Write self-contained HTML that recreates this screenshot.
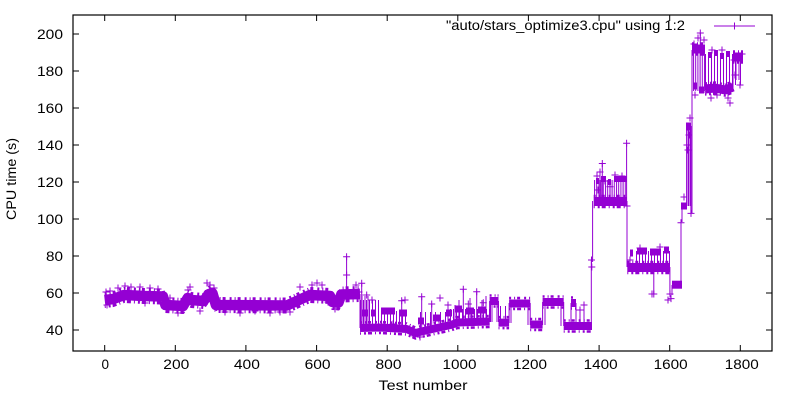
<!DOCTYPE html>
<html>
<head>
<meta charset="utf-8">
<style>
html,body{margin:0;padding:0;background:#fff;}
svg{display:block;}
text{font-family:"Liberation Sans",Arial,sans-serif;fill:#000;}
</style>
</head>
<body>
<svg width="800" height="400" viewBox="0 0 800 400" xmlns="http://www.w3.org/2000/svg" xmlns:xlink="http://www.w3.org/1999/xlink">
<defs>
<path id="p" d="M-3.5 0h7M0 -3.5v7" fill="none" stroke="#9400d3" stroke-width="1"/>
<pattern id="h2" width="2.2" height="10" patternUnits="userSpaceOnUse"><rect width="1" height="10" fill="#9400d3"/></pattern>
<pattern id="h3" width="3" height="10" patternUnits="userSpaceOnUse"><rect width="1" height="10" fill="#9400d3"/></pattern>
<pattern id="h5" width="5" height="10" patternUnits="userSpaceOnUse"><rect width="1" height="10" fill="#9400d3"/></pattern>
<path id="mb" d="M104.7 300 L113.5 299 L124.1 295 L143.5 296 L163 296.5 L165.4 305 L183.1 306 L187.7 298 L191.2 300 L203.6 301 L208.9 294 L212.4 293 L215.9 305 L286.9 305.5 L309.9 295 L320.1 295.5 L330 296 L332.5 302 L338.5 302.5 L341.3 294.5 L360 294"/>
<path id="lb" d="M360 328 L380 327.5 L406.6 329 L415.4 333 L427.8 330 L450.7 325 L457.8 322.5 L489.6 321.5"/>
<path id="sb" d="M489.6 301H498.5M498.5 322.6H509.1M509.1 303.5H530.2M530.2 324.5H542.6M542.6 302H563.7M563.7 326H592M571 303H576"/>
<path id="hb" d="M593.7 201.5H627M627.3 267.5H670M692 49H705M705 89L715 88L725 90L733 87M733 57H743"/>
</defs>
<rect width="800" height="400" fill="#fff"/>

<g fill="none" stroke="#9400d3" stroke-linejoin="round">
<!-- main band 0-723 -->
<use href="#mb" xlink:href="#mb" stroke-width="10.5"/>
<use href="#mb" xlink:href="#mb" transform="translate(0,-6.5)" stroke-width="3" stroke-dasharray="2 3 1 2 3 4"/>
<use href="#mb" xlink:href="#mb" transform="translate(0,6.5)" stroke-width="3" stroke-dasharray="1 3 2 2 4 3"/>
<!-- low region bands -->
<use href="#lb" xlink:href="#lb" stroke-width="8"/>
<use href="#lb" xlink:href="#lb" transform="translate(0,-5.5)" stroke-width="2.5" stroke-dasharray="2 3 1 2 3 4"/>
<use href="#lb" xlink:href="#lb" transform="translate(0,5.5)" stroke-width="2.5" stroke-dasharray="1 3 2 2 4 3"/>
<path stroke-width="7" d="M362 313H368M371 313H376M381 311H395M399 313H407M418 321H424M433 318H440M446 313H452M455 309H462M466 311H474M478 310H486"/>
<use href="#sb" xlink:href="#sb" stroke-width="8"/>
<use href="#sb" xlink:href="#sb" transform="translate(0,-5.5)" stroke-width="2.5" stroke-dasharray="2 3 1 2 3 4"/>
<use href="#sb" xlink:href="#sb" transform="translate(0,5.5)" stroke-width="2.5" stroke-dasharray="1 3 2 2 4 3"/>
<!-- high region bands -->
<use href="#hb" xlink:href="#hb" stroke-width="9"/>
<use href="#hb" xlink:href="#hb" transform="translate(0,-5.5)" stroke-width="2.5" stroke-dasharray="2 3 1 2 3 4"/>
<use href="#hb" xlink:href="#hb" transform="translate(0,5.5)" stroke-width="2.5" stroke-dasharray="1 3 2 2 4 3"/>
<path stroke-width="6" d="M596 181H599M601 179H606M608 182H611M614 179H627"/>
<path stroke-width="7" d="M630 253H633M637 251H647M650 252H661M664 250H669"/>
<path stroke-width="8" d="M672 284.7H682"/>
<path stroke-width="7" d="M681 206H687"/>
<path stroke-width="8" d="M686 126.5H691"/>
<path stroke-width="7" d="M693 86H697M699 90H704"/>
<path stroke-width="6" d="M708 55H712M714 53H718M720 56H724M726 54H730"/>
</g>

<!-- hatch (dense vertical connecting lines) -->
<g stroke="none">
<rect x="360" y="300" width="20" height="26" fill="url(#h3)"/>
<rect x="380" y="311" width="27" height="17" fill="url(#h3)"/>
<rect x="420" y="312" width="30" height="17" fill="url(#h5)"/>
<rect x="450" y="309" width="40" height="13" fill="url(#h3)"/>
<rect x="498" y="306" width="11" height="16" fill="url(#h5)"/>
<rect x="594" y="180" width="33" height="21" fill="url(#h2)"/>
<rect x="636" y="251" width="34" height="16" fill="url(#h3)"/>
<rect x="692" y="49" width="13" height="42" fill="url(#h2)"/>
<rect x="705" y="54" width="28" height="36" fill="url(#h3)"/>
<rect x="733" y="57" width="10" height="28" fill="url(#h5)"/>
</g>

<!-- thin vertical lines -->
<path fill="none" stroke="#9400d3" stroke-width="1" d="
M346.6 294V256.7
M360 294V328M362 294V328M365 296V328M368 296V328
M361.7 283V328M401.7 300V329M421.7 297V331M431.7 304V330M448 305V325M463.3 289V322M476.7 292V322
M455 305V325M459 300V323M470 298V322M482 300V322M486 296V322
M489.6 301V322M490.5 301V322M492 301V322M497 301V322M498.5 301V322
M509.1 303V323M511 303V323M528 303V325M530.2 303V325
M542.6 302V325M545 302V325M561 302V326M563.7 302V326
M571 303V326M576 303V326M580 310V326M584 305V326
M591.3 326V260M592.6 262V201
M600 201V172M602.3 201V163.3M610 201V186.7M626.6 201V143.2M627 201V267
M653.8 267V294M669.9 267V295M672 295V285
M681 285V222.7M682 222V206M686.6 206V126M687 126V206M688.5 126V206M690 126V206
M690.9 126V213.4M692 213V50M700.3 49V33
M733 88V57M736 57V80M739 57V80"/>

<!-- scattered markers -->
<g>
<use href="#p" xlink:href="#p" x="106" y="292"/><use href="#p" xlink:href="#p" x="110" y="291"/>
<use href="#p" xlink:href="#p" x="118" y="288"/><use href="#p" xlink:href="#p" x="125" y="286"/>
<use href="#p" xlink:href="#p" x="131" y="287"/><use href="#p" xlink:href="#p" x="140" y="287"/>
<use href="#p" xlink:href="#p" x="150" y="288"/><use href="#p" xlink:href="#p" x="158" y="289"/>
<use href="#p" xlink:href="#p" x="170" y="298"/><use href="#p" xlink:href="#p" x="178" y="313"/>
<use href="#p" xlink:href="#p" x="188" y="290"/><use href="#p" xlink:href="#p" x="190" y="287"/>
<use href="#p" xlink:href="#p" x="200" y="311"/><use href="#p" xlink:href="#p" x="207" y="283"/>
<use href="#p" xlink:href="#p" x="210" y="285"/><use href="#p" xlink:href="#p" x="214" y="288"/>
<use href="#p" xlink:href="#p" x="225" y="312"/><use href="#p" xlink:href="#p" x="240" y="313"/>
<use href="#p" xlink:href="#p" x="255" y="311"/><use href="#p" xlink:href="#p" x="270" y="313"/>
<use href="#p" xlink:href="#p" x="280" y="312"/><use href="#p" xlink:href="#p" x="300" y="287"/>
<use href="#p" xlink:href="#p" x="312" y="285"/><use href="#p" xlink:href="#p" x="317" y="283"/>
<use href="#p" xlink:href="#p" x="322" y="285"/><use href="#p" xlink:href="#p" x="328" y="302"/>
<use href="#p" xlink:href="#p" x="335" y="309"/><use href="#p" xlink:href="#p" x="346.6" y="256.7"/>
<use href="#p" xlink:href="#p" x="346.6" y="275"/><use href="#p" xlink:href="#p" x="356" y="285"/>
<use href="#p" xlink:href="#p" x="359" y="292"/><use href="#p" xlink:href="#p" x="107" y="305"/>
<use href="#p" xlink:href="#p" x="145" y="303"/><use href="#p" xlink:href="#p" x="290" y="312"/>
<use href="#p" xlink:href="#p" x="361.7" y="283.3"/><use href="#p" xlink:href="#p" x="366.7" y="295"/>
<use href="#p" xlink:href="#p" x="372" y="300"/><use href="#p" xlink:href="#p" x="401.7" y="300.7"/>
<use href="#p" xlink:href="#p" x="405" y="300"/><use href="#p" xlink:href="#p" x="421.7" y="296.7"/>
<use href="#p" xlink:href="#p" x="431.7" y="304"/><use href="#p" xlink:href="#p" x="448" y="305"/>
<use href="#p" xlink:href="#p" x="463.3" y="289.3"/><use href="#p" xlink:href="#p" x="468.3" y="304"/>
<use href="#p" xlink:href="#p" x="476.7" y="291.7"/><use href="#p" xlink:href="#p" x="483.3" y="302.7"/>
<use href="#p" xlink:href="#p" x="415" y="336"/><use href="#p" xlink:href="#p" x="420" y="337"/>
<use href="#p" xlink:href="#p" x="580" y="310"/><use href="#p" xlink:href="#p" x="584" y="305"/>
<use href="#p" xlink:href="#p" x="393" y="324"/><use href="#p" xlink:href="#p" x="440" y="298"/>
<use href="#p" xlink:href="#p" x="591.5" y="260"/><use href="#p" xlink:href="#p" x="591.8" y="267"/>
<use href="#p" xlink:href="#p" x="602.3" y="163.5"/><use href="#p" xlink:href="#p" x="600" y="172"/>
<use href="#p" xlink:href="#p" x="597" y="176"/><use href="#p" xlink:href="#p" x="610" y="186.7"/>
<use href="#p" xlink:href="#p" x="626.6" y="143.2"/><use href="#p" xlink:href="#p" x="605" y="181"/>
<use href="#p" xlink:href="#p" x="598" y="190"/><use href="#p" xlink:href="#p" x="615" y="175"/>
<use href="#p" xlink:href="#p" x="622" y="176"/><use href="#p" xlink:href="#p" x="627" y="206"/>
<use href="#p" xlink:href="#p" x="653.8" y="294"/><use href="#p" xlink:href="#p" x="652" y="294"/>
<use href="#p" xlink:href="#p" x="670" y="294"/><use href="#p" xlink:href="#p" x="671" y="298.6"/>
<use href="#p" xlink:href="#p" x="668" y="300"/><use href="#p" xlink:href="#p" x="630" y="260"/>
<use href="#p" xlink:href="#p" x="640" y="248"/><use href="#p" xlink:href="#p" x="660" y="247"/>
<use href="#p" xlink:href="#p" x="681" y="222.7"/><use href="#p" xlink:href="#p" x="684" y="197"/>
<use href="#p" xlink:href="#p" x="687" y="145"/><use href="#p" xlink:href="#p" x="688" y="150"/>
<use href="#p" xlink:href="#p" x="689" y="135"/><use href="#p" xlink:href="#p" x="690" y="118"/>
<use href="#p" xlink:href="#p" x="691" y="213.4"/>
<use href="#p" xlink:href="#p" x="700.3" y="33"/><use href="#p" xlink:href="#p" x="698" y="38"/>
<use href="#p" xlink:href="#p" x="694" y="44"/><use href="#p" xlink:href="#p" x="704" y="40"/>
<use href="#p" xlink:href="#p" x="730" y="103"/><use href="#p" xlink:href="#p" x="728" y="98"/>
<use href="#p" xlink:href="#p" x="711" y="98"/><use href="#p" xlink:href="#p" x="717" y="95"/>
<use href="#p" xlink:href="#p" x="706" y="92"/><use href="#p" xlink:href="#p" x="734" y="60"/>
<use href="#p" xlink:href="#p" x="742" y="54"/><use href="#p" xlink:href="#p" x="738" y="60"/>
<use href="#p" xlink:href="#p" x="735" y="75"/><use href="#p" xlink:href="#p" x="740" y="85"/>
<use href="#p" xlink:href="#p" x="695" y="95"/><use href="#p" xlink:href="#p" x="712" y="50"/>
<use href="#p" xlink:href="#p" x="722" y="50"/>
</g>

<!-- frame -->
<rect x="73" y="15" width="699" height="336" fill="none" stroke="#000" stroke-width="1.2"/>
<!-- ticks -->
<path fill="none" stroke="#000" stroke-width="1" d="
M73 330h6M772 330h-6
M73 293h6M772 293h-6
M73 256h6M772 256h-6
M73 219h6M772 219h-6
M73 182h6M772 182h-6
M73 145h6M772 145h-6
M73 108h6M772 108h-6
M73 71h6M772 71h-6
M73 34h6M772 34h-6
M104.7 351v-6M104.7 15v6
M175.3 351v-6M175.3 15v6
M245.9 351v-6M245.9 15v6
M316.6 351v-6M316.6 15v6
M387.2 351v-6M387.2 15v6
M457.8 351v-6M457.8 15v6
M528.4 351v-6M528.4 15v6
M599.1 351v-6M599.1 15v6
M669.7 351v-6M669.7 15v6
M740.3 351v-6M740.3 15v6"/>

<!-- y tick labels -->
<g font-size="13.5" text-anchor="end">
<text x="63" y="335" textLength="17" lengthAdjust="spacingAndGlyphs">40</text>
<text x="63" y="298" textLength="17" lengthAdjust="spacingAndGlyphs">60</text>
<text x="63" y="261" textLength="17" lengthAdjust="spacingAndGlyphs">80</text>
<text x="63" y="224" textLength="26" lengthAdjust="spacingAndGlyphs">100</text>
<text x="63" y="187" textLength="26" lengthAdjust="spacingAndGlyphs">120</text>
<text x="63" y="150" textLength="26" lengthAdjust="spacingAndGlyphs">140</text>
<text x="63" y="113" textLength="26" lengthAdjust="spacingAndGlyphs">160</text>
<text x="63" y="76" textLength="26" lengthAdjust="spacingAndGlyphs">180</text>
<text x="63" y="39" textLength="26" lengthAdjust="spacingAndGlyphs">200</text>
</g>
<!-- x tick labels -->
<g font-size="13.5" text-anchor="middle">
<text x="105.3" y="369">0</text>
<text x="176.3" y="369" textLength="26" lengthAdjust="spacingAndGlyphs">200</text>
<text x="246.9" y="369" textLength="26" lengthAdjust="spacingAndGlyphs">400</text>
<text x="317.6" y="369" textLength="26" lengthAdjust="spacingAndGlyphs">600</text>
<text x="388.5" y="369" textLength="26" lengthAdjust="spacingAndGlyphs">800</text>
<text x="459.5" y="369" textLength="34" lengthAdjust="spacingAndGlyphs">1000</text>
<text x="530" y="369" textLength="34" lengthAdjust="spacingAndGlyphs">1200</text>
<text x="600.6" y="369" textLength="34" lengthAdjust="spacingAndGlyphs">1400</text>
<text x="670.7" y="369" textLength="34" lengthAdjust="spacingAndGlyphs">1600</text>
<text x="741.8" y="369" textLength="34" lengthAdjust="spacingAndGlyphs">1800</text>
</g>

<!-- axis labels -->
<text x="423" y="390" font-size="13.5" text-anchor="middle" textLength="89" lengthAdjust="spacingAndGlyphs">Test number</text>
<text transform="translate(16,179) rotate(-90)" x="0" y="0" font-size="13.5" text-anchor="middle" textLength="82" lengthAdjust="spacingAndGlyphs">CPU time (s)</text>

<!-- legend -->
<text x="685" y="30" font-size="13.5" text-anchor="end" textLength="239" lengthAdjust="spacingAndGlyphs">"auto/stars_optimize3.cpu" using 1:2</text>
<path fill="none" stroke="#9400d3" stroke-width="1" d="M714 26H755M731 26h7M734.5 22.5v7"/>
</svg>
</body>
</html>
